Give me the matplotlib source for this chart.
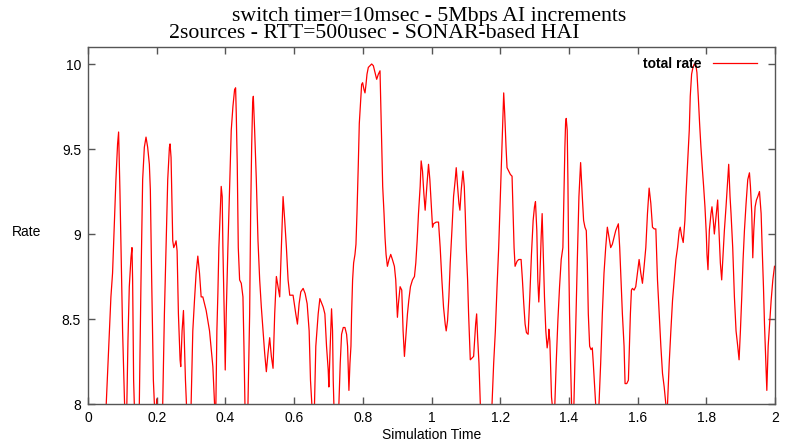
import matplotlib
matplotlib.use("Agg")
import matplotlib.pyplot as plt
import numpy as np

title_line1 = "switch timer=10msec - 5Mbps AI increments"
title_line2 = "2sources - RTT=500usec - SONAR-based HAI"
x_label = "Simulation Time"
y_label = "Rate"
series_label = "total rate"
x_ticks = [0, 0.2, 0.4, 0.6, 0.8, 1.0, 1.2, 1.4, 1.6, 1.8, 2.0]
x_tick_labels = ["0", "0.2", "0.4", "0.6", "0.8", "1", "1.2", "1.4", "1.6", "1.8", "2"]
y_ticks = [8, 8.5, 9, 9.5, 10]
y_tick_labels = ["8", "8.5", "9", "9.5", "10"]

time = [
    0.000, 0.030, 0.052, 0.0667, 0.0715, 0.0813, 0.0861, 0.0891, 0.0929, 0.0959, 0.1007, 0.1056,
    0.1105, 0.1163, 0.1202, 0.1251, 0.128, 0.1299, 0.1328, 0.1348, 0.1416, 0.1494, 0.1543, 0.1591,
    0.164, 0.1689, 0.1737, 0.1786, 0.1815, 0.1854, 0.1903, 0.1932, 0.1965, 0.200, 0.204, 0.2175,
    0.2224, 0.2272, 0.2321, 0.237, 0.2389, 0.2418, 0.2467, 0.2496, 0.2535, 0.2564, 0.2594, 0.2632,
    0.2681, 0.270, 0.2739, 0.2779, 0.2808, 0.2837, 0.2866, 0.2934, 0.3002, 0.3051, 0.310, 0.3148,
    0.3197, 0.3246, 0.3294, 0.3343, 0.344, 0.3538, 0.3635, 0.3684, 0.3703, 0.3723, 0.3752, 0.3781,
    0.381, 0.3849, 0.3878, 0.3907, 0.3927, 0.3946, 0.3976, 0.3995, 0.4024, 0.4073, 0.4122, 0.417,
    0.4219, 0.4268, 0.4297, 0.4316, 0.4345, 0.4375, 0.4414, 0.4462, 0.4511, 0.454, 0.4569, 0.4608,
    0.4657, 0.4706, 0.4735, 0.4764, 0.4793, 0.4813, 0.4851, 0.490, 0.4949, 0.4998, 0.5046, 0.5095,
    0.5143, 0.5192, 0.5241, 0.5289, 0.5338, 0.5387, 0.5435, 0.5484, 0.5533, 0.5581, 0.563, 0.5679,
    0.5727, 0.5776, 0.5825, 0.5873, 0.597, 0.6049, 0.6097, 0.6146, 0.6195, 0.6263, 0.6321, 0.638,
    0.6438, 0.6477, 0.6516, 0.6555, 0.6594, 0.6632, 0.6701, 0.675, 0.6847, 0.6896, 0.6944, 0.6993,
    0.7012, 0.7051, 0.709, 0.7119, 0.7139, 0.7158, 0.7236, 0.7304, 0.7343, 0.7382, 0.7431, 0.748,
    0.7528, 0.7557, 0.7596, 0.7626, 0.7655, 0.7674, 0.7703, 0.7733, 0.7772, 0.7801, 0.783, 0.7869,
    0.7898, 0.7927, 0.7966, 0.7995, 0.8034, 0.8064, 0.8093, 0.8122, 0.8161, 0.8209, 0.8258, 0.8307,
    0.8355, 0.8404, 0.8453, 0.8501, 0.853, 0.855, 0.8579, 0.8618, 0.8647, 0.8677, 0.8716, 0.8764,
    0.8813, 0.8862, 0.892, 0.8959, 0.9008, 0.9037, 0.9086, 0.9134, 0.9173, 0.9212, 0.9251, 0.930,
    0.9339, 0.9387, 0.9446, 0.9504, 0.9543, 0.9582, 0.9621, 0.967, 0.9699, 0.9738, 0.9777, 0.9815,
    0.9864, 0.9913, 0.9952, 0.9991, 1.003, 1.0058, 1.0136, 1.0204, 1.0253, 1.0302, 1.035, 1.0399,
    1.0428, 1.0467, 1.0506, 1.0545, 1.0594, 1.0642, 1.0691, 1.072, 1.0759, 1.0798, 1.0827, 1.0866,
    1.0915, 1.0954, 1.0983, 1.1012, 1.1051, 1.108, 1.1109, 1.1129, 1.1178, 1.1226, 1.1255, 1.1285,
    1.1314, 1.1343, 1.1382, 1.1421, 1.1596, 1.1762, 1.181, 1.1859, 1.1908, 1.1956, 1.2005, 1.2054,
    1.2083, 1.2102, 1.2131, 1.217, 1.2199, 1.2248, 1.2297, 1.2345, 1.2375, 1.2404, 1.2433, 1.2491,
    1.254, 1.2608, 1.2647, 1.2686, 1.2725, 1.2764, 1.2813, 1.2861, 1.291, 1.2959, 1.2998, 1.3027,
    1.3066, 1.3095, 1.3124, 1.3153, 1.3192, 1.3221, 1.325, 1.3289, 1.3328, 1.3367, 1.3406, 1.3416,
    1.3445, 1.3465, 1.3494, 1.3513, 1.3552, 1.3591, 1.363, 1.3679, 1.3728, 1.3776, 1.3825, 1.3854,
    1.3883, 1.3903, 1.3922, 1.3951, 1.3971, 1.399, 1.4019, 1.4049, 1.4078, 1.4107, 1.4146, 1.4195,
    1.4243, 1.4292, 1.4341, 1.439, 1.4428, 1.4467, 1.4506, 1.4536, 1.4565, 1.4604, 1.4643, 1.4681,
    1.471, 1.4749, 1.4779, 1.4827, 1.4876, 1.4925, 1.4973, 1.5022, 1.5071, 1.5119, 1.5168, 1.5217,
    1.5265, 1.5314, 1.5363, 1.544, 1.5479, 1.5518, 1.5557, 1.5606, 1.5635, 1.5684, 1.5732, 1.5761,
    1.579, 1.582, 1.5849, 1.5898, 1.5946, 1.5995, 1.6044, 1.6093, 1.6141, 1.619, 1.6239, 1.6287,
    1.6336, 1.6385, 1.6433, 1.6482, 1.6531, 1.6579, 1.6628, 1.6677, 1.6725, 1.6774, 1.6822, 1.6842,
    1.6871, 1.692, 1.6968, 1.7017, 1.7066, 1.7114, 1.7163, 1.7212, 1.7241, 1.728, 1.7328, 1.7377,
    1.7406, 1.7455, 1.7504, 1.7533, 1.7572, 1.7611, 1.765, 1.7698, 1.7727, 1.7766, 1.7805, 1.7844,
    1.7883, 1.7922, 1.7961, 1.800, 1.802, 1.8049, 1.8088, 1.8136, 1.8165, 1.8204, 1.8234, 1.8282,
    1.8331, 1.837, 1.8409, 1.8448, 1.8487, 1.8526, 1.8574, 1.8623, 1.8652, 1.8691, 1.872, 1.8769,
    1.8818, 1.8866, 1.8915, 1.8954, 1.8993, 1.9032, 1.9071, 1.911, 1.9158, 1.9207, 1.9256, 1.9285,
    1.9324, 1.9353, 1.9382, 1.9421, 1.946, 1.9499, 1.9548, 1.9596, 1.9626, 1.9664, 1.9694, 1.9733,
    1.9762, 1.9801, 1.985, 1.9888, 1.9937, 1.9986,
]

total_rate = [
    7.30, 7.40, 7.95, 8.63, 8.77, 9.32, 9.53, 9.60, 9.26, 8.94, 8.43, 8.06,
    7.70, 8.37, 8.69, 8.86, 8.92, 8.73, 8.14, 8.00, 7.60, 8.00, 8.73, 9.32,
    9.51, 9.57, 9.51, 9.41, 9.26, 8.73, 8.14, 8.00, 7.85, 8.03, 7.85, 8.00,
    8.53, 8.92, 9.32, 9.51, 9.53, 9.45, 8.96, 8.92, 8.94, 8.96, 8.90, 8.53,
    8.26, 8.22, 8.43, 8.55, 8.34, 8.14, 8.00, 7.70, 8.00, 8.43, 8.61, 8.77,
    8.87, 8.77, 8.63, 8.63, 8.55, 8.43, 8.22, 8.00, 7.80, 8.00, 8.43, 8.65,
    8.92, 9.12, 9.28, 9.22, 8.92, 8.73, 8.43, 8.20, 8.53, 8.92, 9.28, 9.61,
    9.75, 9.85, 9.86, 9.71, 9.41, 8.92, 8.73, 8.71, 8.63, 8.34, 8.00, 7.70,
    8.00, 8.53, 9.12, 9.51, 9.77, 9.81, 9.61, 9.32, 8.96, 8.73, 8.57, 8.43,
    8.30, 8.19, 8.30, 8.39, 8.28, 8.21, 8.53, 8.75, 8.69, 8.63, 8.92, 9.22,
    9.08, 8.92, 8.73, 8.64, 8.64, 8.53, 8.47, 8.59, 8.66, 8.68, 8.65, 8.59,
    8.43, 8.14, 8.00, 7.70, 8.00, 8.34, 8.53, 8.62, 8.57, 8.53, 8.34, 8.20,
    8.10, 8.34, 8.56, 8.43, 8.14, 8.00, 7.70, 8.00, 8.24, 8.41, 8.45, 8.45,
    8.41, 8.34, 8.08, 8.24, 8.34, 8.53, 8.73, 8.83, 8.88, 8.94, 9.12, 9.41,
    9.65, 9.75, 9.88, 9.89, 9.85, 9.83, 9.88, 9.94, 9.98, 9.99, 10.00, 9.99,
    9.95, 9.91, 9.94, 9.96, 9.71, 9.51, 9.28, 9.12, 8.98, 8.88, 8.81, 8.85,
    8.88, 8.85, 8.81, 8.73, 8.51, 8.59, 8.69, 8.67, 8.43, 8.28, 8.39, 8.53,
    8.61, 8.69, 8.73, 8.75, 8.83, 8.96, 9.12, 9.28, 9.43, 9.37, 9.24, 9.14,
    9.28, 9.41, 9.32, 9.18, 9.04, 9.06, 9.07, 9.07, 8.92, 8.73, 8.57, 8.47,
    8.43, 8.49, 8.63, 8.83, 9.02, 9.22, 9.32, 9.39, 9.28, 9.18, 9.14, 9.26,
    9.37, 9.28, 9.12, 8.92, 8.73, 8.53, 8.37, 8.26, 8.27, 8.28, 8.37, 8.47,
    8.53, 8.39, 8.24, 8.00, 7.50, 8.00, 8.24, 8.43, 8.69, 8.92, 9.22, 9.51,
    9.71, 9.83, 9.71, 9.51, 9.39, 9.37, 9.35, 9.34, 9.12, 8.92, 8.81, 8.84,
    8.85, 8.85, 8.73, 8.59, 8.47, 8.42, 8.41, 8.63, 8.88, 9.08, 9.16, 9.19,
    9.02, 8.73, 8.60, 8.73, 8.98, 9.12, 8.92, 8.63, 8.43, 8.33, 8.39, 8.44,
    8.37, 8.24, 8.04, 8.00, 7.80, 8.00, 8.24, 8.49, 8.69, 8.85, 8.92, 9.22,
    9.51, 9.65, 9.68, 9.61, 9.32, 8.92, 8.53, 8.24, 8.00, 7.80, 8.00, 8.43,
    8.83, 9.22, 9.42, 9.22, 9.08, 9.04, 9.02, 8.83, 8.53, 8.34, 8.32, 8.33,
    8.24, 8.10, 8.00, 7.80, 8.00, 8.24, 8.53, 8.77, 8.92, 9.04, 8.98, 8.92,
    8.94, 8.98, 9.02, 9.06, 8.92, 8.73, 8.53, 8.34, 8.12, 8.12, 8.14, 8.34,
    8.53, 8.67, 8.68, 8.67, 8.69, 8.77, 8.85, 8.77, 8.71, 8.81, 8.92, 9.12,
    9.27, 9.18, 9.04, 9.03, 9.03, 8.73, 8.53, 8.34, 8.18, 8.10, 8.00, 7.90,
    8.00, 8.24, 8.43, 8.61, 8.73, 8.85, 8.92, 9.02, 9.04, 8.99, 8.95, 9.08,
    9.22, 9.41, 9.61, 9.81, 9.94, 9.98, 10.00, 9.99, 9.95, 9.81, 9.65, 9.51,
    9.39, 9.28, 9.16, 9.00, 8.88, 8.79, 9.02, 9.12, 9.16, 9.08, 9.00, 9.10,
    9.20, 9.02, 8.83, 8.73, 8.88, 9.02, 9.16, 9.32, 9.41, 9.22, 9.12, 8.92,
    8.63, 8.43, 8.34, 8.26, 8.43, 8.63, 8.85, 9.02, 9.18, 9.32, 9.36, 9.28,
    9.12, 8.86, 9.02, 9.16, 9.20, 9.22, 9.25, 9.12, 8.92, 8.69, 8.47, 8.24,
    8.08, 8.34, 8.49, 8.61, 8.73, 8.81,
]

W, H = 787, 444
fig = plt.figure(figsize=(W / 100, H / 100), dpi=100)
ax = fig.add_axes([88 / W, 1 - 404 / H, (775 - 88) / W, (404 - 47) / H])

ax.plot(time, total_rate, color="#ff0000", lw=0.9, label=series_label, clip_on=True)

ax.set_xlim(0, 2.0)
ax.set_ylim(8, 10.1)
ax.set_xticks(x_ticks)
ax.set_xticklabels(x_tick_labels)
ax.set_yticks(y_ticks)
ax.set_yticklabels(y_tick_labels)

frame_color = "#555555"
for s in ax.spines.values():
    s.set_color(frame_color)
    s.set_linewidth(1.0)
ax.tick_params(direction="in", length=5, width=1, color=frame_color,
               top=True, right=True, labelsize=10, pad=5)
for lab in ax.get_xticklabels() + ax.get_yticklabels():
    lab.set_family("Liberation Sans")

fig.text(432 / W, 1 - 435 / H, x_label, fontsize=10, family="Liberation Sans",
         ha="center", va="center")
fig.text(27 / W, 1 - 232 / H, y_label, fontsize=10, family="Liberation Sans",
         ha="center", va="center")

fig.text(429 / W, 1 - 17 / H, title_line1, fontsize=15.7, family="Liberation Serif",
         ha="center", va="center")
fig.text(374 / W, 1 - 34 / H, title_line2, fontsize=15.7, family="Liberation Serif",
         ha="center", va="center")

leg = ax.legend(loc="upper right", frameon=False, handlelength=3.2,
                markerfirst=False, borderaxespad=0.3, handletextpad=0.8,
                bbox_to_anchor=(0.988, 1.0),
                prop={"family": "Liberation Sans", "size": 10, "weight": "bold"})

fig.savefig("out.png", dpi=100)
